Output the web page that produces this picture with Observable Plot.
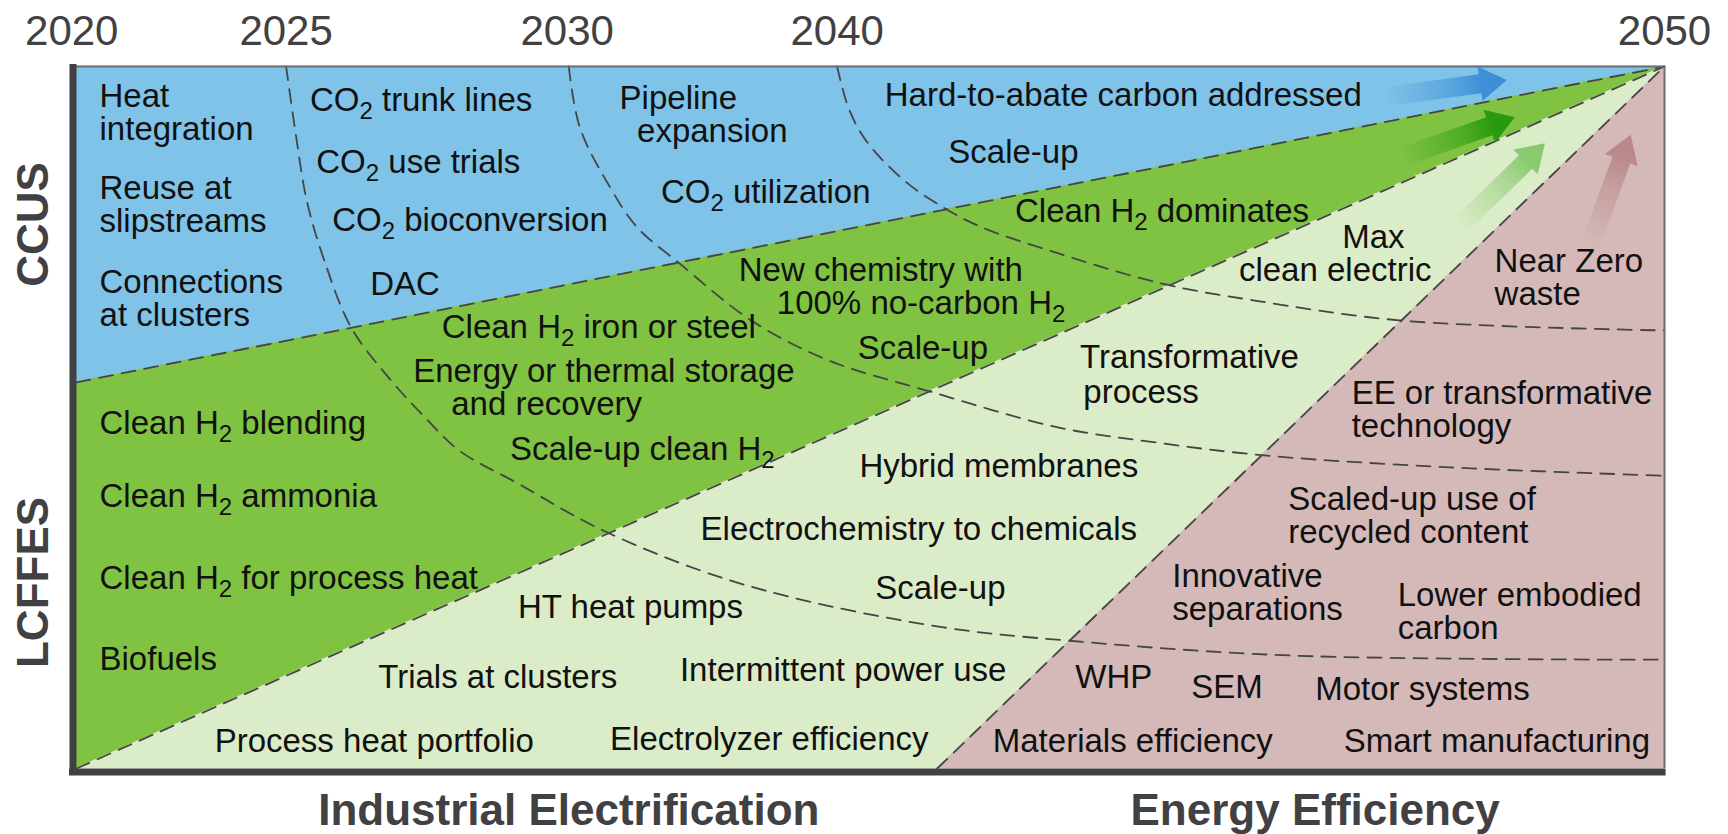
<!DOCTYPE html>
<html><head><meta charset="utf-8">
<script src="https://cdn.jsdelivr.net/npm/d3@7"></script>
<script src="https://cdn.jsdelivr.net/npm/@observablehq/plot@0.6"></script>
<style>html,body{margin:0;padding:0;background:#fff;} #chart svg{display:block}</style>
</head><body><div id="chart"></div>
<script>
// Chart coordinates: x = progress along the 2020 -> 2050 roadmap (0-100),
// y = height inside the diagram (0 = bottom, 100 = top).

// Top timeline tick labels and their positions
const yearLabels = ["2020", "2025", "2030", "2040", "2050"];
const yearPos    = [-0.3, 13.2, 30.9, 47.9, 100];

// Straight boundaries between the four pathways (all meet at 2050, top-right)
const ccusBoundary            = [[0, 55.0], [100, 100]];
const electrificationBoundary = [[0, 0], [100, 100]];
const efficiencyBoundary      = [[54.2, 0], [100, 100]];

// Curved milestone fronts starting at 2025, 2030 and 2040
const arc2025 = [[13.2,100],[13.8,90.5],[14.5,80.9],[15.6,72.4],[17.3,62.8],[19.8,55.3],[21.7,50.6],[24.1,45.3],[27.8,40.6],[32.8,34.3],[39.3,28.2],[45.0,24.4],[54.6,20.1],[62.5,18.2],[76.4,16.1],[100,15.5]];
const arc2030 = [[31.0,100],[31.7,91.3],[33.6,82.8],[35.3,77.1],[38.0,71.9],[42.5,63.8],[47.4,58.1],[53.6,53.8],[61.8,48.6],[68.1,46.4],[74.8,44.6],[86.5,42.9],[100,41.7]];
const arc2040 = [[47.9,100],[48.6,94.2],[49.7,89.5],[52.1,83.8],[54.6,79.9],[57.0,77.1],[61.8,73.4],[68.3,69.1],[74.1,66.7],[83.5,63.8],[100,62.4]];

// Item labels: [text, x (left edge), y (baseline of last line)]
const ccusItems = [
  ["Heat\nintegration", 1.45, 89.6],
  ["Reuse at\nslipstreams", 1.45, 76.4],
  ["Connections\nat clusters", 1.45, 63.1],
  ["CO₂ trunk lines", 14.7, 93.7], ["CO₂ use trials", 15.1, 84.9],
  ["CO₂ bioconversion", 16.1, 76.6], ["DAC", 18.5, 67.4],
  ["Pipeline", 34.2, 94.0], ["expansion", 35.3, 89.2],
  ["CO₂ utilization", 36.8, 80.5],
  ["Hard-to-abate carbon addressed", 50.9, 94.4], ["Scale-up", 54.9, 86.2]
];
const lcffesItems = [
  ["Clean H₂ blending", 1.45, 47.7], ["Clean H₂ ammonia", 1.45, 37.2],
  ["Clean H₂ for process heat", 1.45, 25.6], ["Biofuels", 1.45, 14.0],
  ["Clean H₂ iron or steel", 23.0, 61.3], ["Energy or thermal storage", 21.2, 55.0],
  ["and recovery", 23.6, 50.3], ["Scale-up clean H₂", 27.3, 43.9],
  ["New chemistry with", 41.7, 69.5], ["100% no-carbon H₂", 44.1, 64.8],
  ["Scale-up", 49.2, 58.4], ["Clean H₂ dominates", 59.1, 77.8]
];
const electrificationItems = [
  ["Process heat portfolio", 8.7, 2.3], ["Trials at clusters", 19.0, 11.5],
  ["HT heat pumps", 27.8, 21.4], ["Electrolyzer efficiency", 33.6, 2.6],
  ["Intermittent power use", 38.0, 12.5], ["Electrochemistry to chemicals", 39.3, 32.5],
  ["Scale-up", 50.3, 24.2], ["Hybrid membranes", 49.3, 41.5],
  ["Transformative", 63.2, 57.0], ["process", 63.4, 52.1],
  ["Max", 79.7, 74.2], ["clean electric", 73.2, 69.5]
];
const efficiencyItems = [
  ["Near Zero\nwaste", 89.3, 66.0],
  ["EE or transformative\ntechnology", 80.3, 47.2],
  ["Scaled-up use of\nrecycled content", 76.3, 32.1],
  ["Innovative\nseparations", 69.0, 21.1],
  ["Lower embodied\ncarbon", 83.2, 18.5],
  ["WHP", 62.9, 11.5], ["SEM", 70.2, 10.0], ["Motor systems", 78.0, 9.7],
  ["Materials efficiency", 57.7, 2.3], ["Smart manufacturing", 79.8, 2.3]
];

// Side (row) and bottom (column) headings: [text, x (centre), y]
const rowTitles = [["CCUS", -2.7, 77.5], ["LCFFES", -2.7, 26.5]];
const colTitles = [["Industrial Electrification", 31.0, -8.1], ["Energy Efficiency", 78.0, -8.1]];

// Trend arrows heading to 2050: from (tail) -> to (tip)
const trendArrows = [
  {name: "CCUS",            from: [82.4, 95.6], to: [90.1, 98.0]},
  {name: "LCFFES",          from: [83.5, 87.0], to: [90.6, 92.7]},
  {name: "Electrification", from: [87.1, 77.1], to: [92.5, 89.0]},
  {name: "Efficiency",      from: [95.3, 74.2], to: [97.9, 90.2]}
];

// ---- styling ----
const fills  = {CCUS: "#7fc3e8", LCFFES: "#80c242", Electrification: "#dbecc9", Efficiency: "#d5b9b9"};
const arrowColors = {CCUS: "#3b8dd6", LCFFES: "#26990e", Electrification: "#86c96a", Efficiency: "#b98787"};
const dash = "14,9", dashColor = "#454547", ink = "#111", headInk = "#414042";
const FONT = "'Liberation Sans', Arial, Helvetica, sans-serif";

// ---- build region polygons from the boundaries ----
const lineAt = pts => x => { const [[x0, y0], [x1, y1]] = pts; return y0 + (y1 - y0) * (x - x0) / (x1 - x0); };
const ccusY = lineAt(ccusBoundary), elecY = lineAt(electrificationBoundary), effY = lineAt(efficiencyBoundary);
const effStart = efficiencyBoundary[0][0];
const regions = [
  {name: "CCUS", pts: [0, 100].map(x => ({x, y1: ccusY(x), y2: 100}))},
  {name: "LCFFES", pts: [0, 100].map(x => ({x, y1: elecY(x), y2: ccusY(x)}))},
  {name: "Electrification", pts: [0, effStart, 100].map(x => ({x, y1: x < effStart ? 0 : effY(x), y2: elecY(x)}))},
  {name: "Efficiency", pts: [effStart, 100].map(x => ({x, y1: 0, y2: effY(x)}))}
];

const allItems = [...ccusItems, ...lcffesItems, ...electrificationItems, ...efficiencyItems];

// custom mark: gradient arrows placed through the x / y scales
function arrowsMark(index, scales) {
  const ns = "http://www.w3.org/2000/svg";
  const g = document.createElementNS(ns, "g");
  const defs = document.createElementNS(ns, "defs");
  g.appendChild(defs);
  trendArrows.forEach((a, i) => {
    const tx = scales.x(a.from[0]), ty = scales.y(a.from[1]);
    const px = scales.x(a.to[0]), py = scales.y(a.to[1]);
    const len = Math.hypot(px - tx, py - ty), dx = (px - tx) / len, dy = (py - ty) / len;
    const nx = -dy, ny = dx, sw = 9.5, hw = 17.5, hl = 27;
    const bx = px - dx * hl, by = py - dy * hl;
    const pts = [[tx + nx * sw, ty + ny * sw], [bx + nx * sw, by + ny * sw], [bx + nx * hw, by + ny * hw], [px, py],
                 [bx - nx * hw, by - ny * hw], [bx - nx * sw, by - ny * sw], [tx - nx * sw, ty - ny * sw]];
    const grad = document.createElementNS(ns, "linearGradient");
    grad.setAttribute("id", "trendGrad" + i);
    grad.setAttribute("gradientUnits", "userSpaceOnUse");
    grad.setAttribute("x1", tx); grad.setAttribute("y1", ty);
    grad.setAttribute("x2", px); grad.setAttribute("y2", py);
    [[0, 0], [0.55, 0.55], [0.8, 0.95], [1, 1]].forEach(([o, op]) => {
      const s = document.createElementNS(ns, "stop");
      s.setAttribute("offset", o);
      s.setAttribute("stop-color", arrowColors[a.name]);
      s.setAttribute("stop-opacity", op);
      grad.appendChild(s);
    });
    defs.appendChild(grad);
    const poly = document.createElementNS(ns, "polygon");
    poly.setAttribute("points", pts.map(p => p.join(",")).join(" "));
    poly.setAttribute("fill", `url(#trendGrad${i})`);
    g.appendChild(poly);
  });
  return g;
}

const dashed = {stroke: dashColor, strokeWidth: 1.8, strokeDasharray: dash};

const chart = Plot.plot({
  width: 1728, height: 834,
  marginLeft: 76, marginRight: 64, marginTop: 66, marginBottom: 66,
  x: {domain: [0, 100], axis: null},
  y: {domain: [0, 100], axis: null},
  style: {fontFamily: FONT, background: "#fff"},
  marks: [
    ...regions.map(r => Plot.areaY(r.pts, {x: "x", y1: "y1", y2: "y2", fill: fills[r.name], stroke: fills[r.name], strokeWidth: 0.6})),
    ...[arc2025, arc2030, arc2040].map(a => Plot.line(a, {x: d => d[0], y: d => d[1], curve: "catmull-rom", ...dashed})),
    ...[ccusBoundary, electrificationBoundary, efficiencyBoundary].map(b => Plot.line(b, {x: d => d[0], y: d => d[1], ...dashed})),
    arrowsMark,
    // frame: thin top/right, heavy left/bottom
    Plot.ruleY([100], {stroke: "#6d6e71", strokeWidth: 2}),
    Plot.ruleX([100], {stroke: "#6d6e71", strokeWidth: 2}),
    Plot.ruleX([0], {y1: 100.3, y2: -1, dx: -3.5, stroke: headInk, strokeWidth: 7}),
    Plot.ruleY([0], {x1: -0.44, x2: 100.1, dy: 3.5, stroke: headInk, strokeWidth: 7}),
    // labels
    Plot.text(allItems, {x: d => d[1], y: d => d[2], text: d => d[0], textAnchor: "start", lineAnchor: "bottom", lineHeight: 1.0, fontSize: 33, fill: ink}),
    Plot.text(yearLabels, {x: (d, i) => yearPos[i], y: 103, text: d => d, textAnchor: "middle", lineAnchor: "bottom", fontSize: 42, fill: headInk}),
    Plot.text(rowTitles, {x: d => d[1], y: d => d[2], text: d => d[0], rotate: -90, textAnchor: "middle", lineAnchor: "middle", fontSize: 44, fontWeight: "bold", fill: headInk}),
    Plot.text(colTitles, {x: d => d[1], y: d => d[2], text: d => d[0], textAnchor: "middle", lineAnchor: "bottom", fontSize: 44, fontWeight: "bold", fill: headInk})
  ]
});

// render the "₂" of CO₂ / H₂ as a real subscript
chart.querySelectorAll("text").forEach(t => {
  if (t.querySelector("tspan")) return;
  const s = t.textContent;
  if (!s.includes("₂")) return;
  const ns = "http://www.w3.org/2000/svg";
  const parts = s.split("₂");
  t.textContent = "";
  parts.forEach((p, i) => {
    if (i > 0) {
      const sub = document.createElementNS(ns, "tspan");
      sub.setAttribute("font-size", "24");
      sub.setAttribute("dy", "8");
      sub.textContent = "2";
      t.appendChild(sub);
    }
    if (p.length) {
      const span = document.createElementNS(ns, "tspan");
      if (i > 0) span.setAttribute("dy", "-8");
      span.textContent = p;
      t.appendChild(span);
    }
  });
});

document.getElementById("chart").appendChild(chart);
</script>
</body></html>
